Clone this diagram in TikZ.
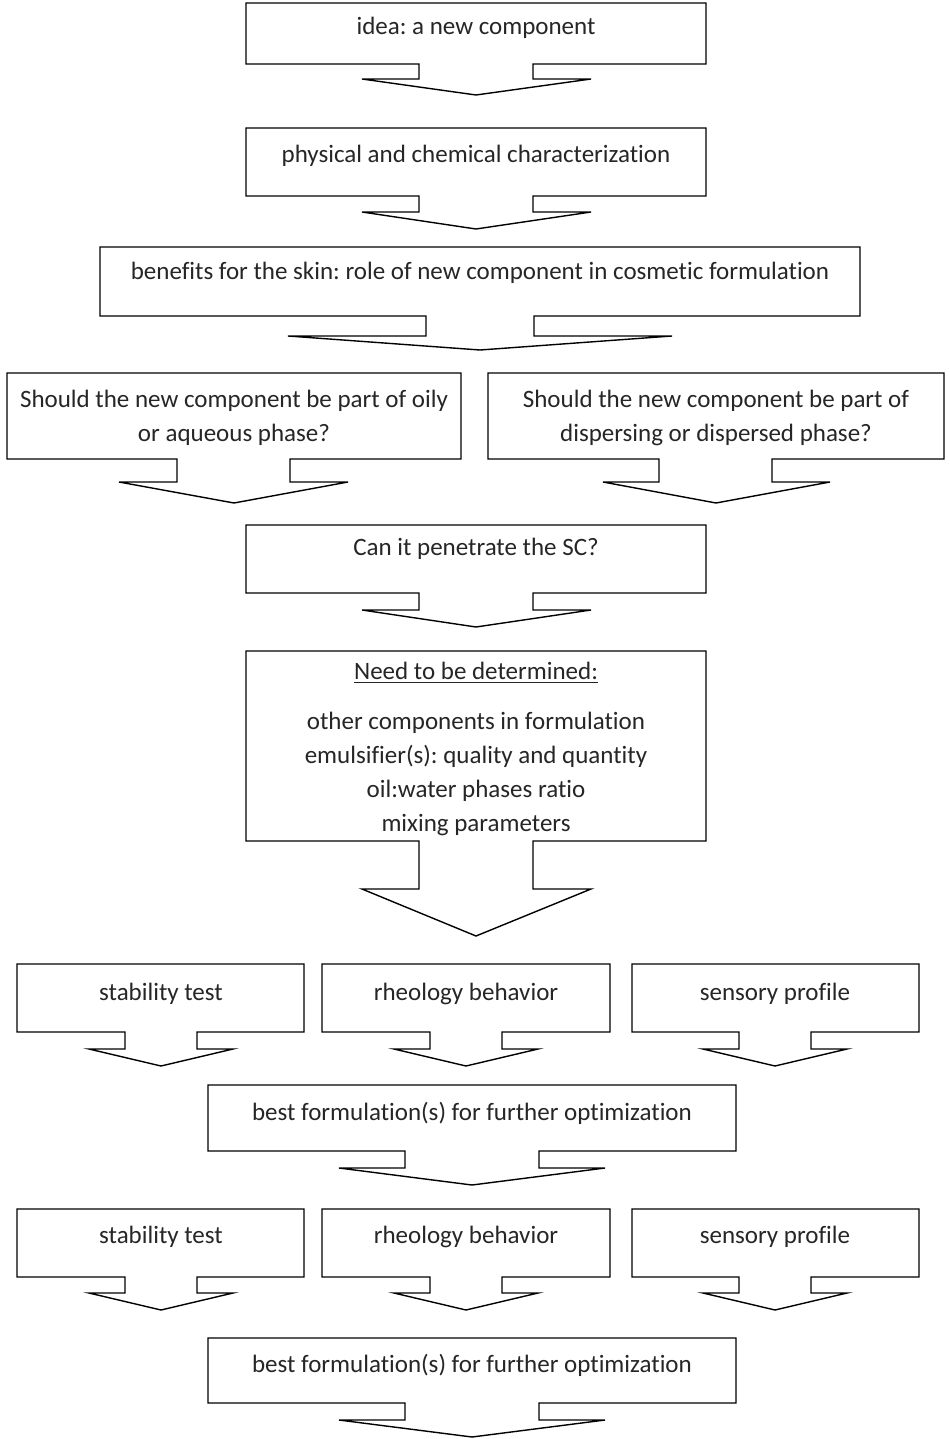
\documentclass[tikz,border=0pt]{standalone}
\usepackage{fontspec}
\setmainfont[Ligatures=NoCommon]{Carlito}
\frenchspacing

\begin{document}
\begin{tikzpicture}[x=0.5pt,y=-0.5pt,font=\fontsize{12.5}{17}\selectfont,callout/.style={fill=white,draw=black,line width=0.7pt,line join=miter},boxtext/.style={inner sep=0pt,align=center,text=black!85}]\useasboundingbox (0,0) rectangle (949,1439);
\path[callout] (246,3) -- (706,3) -- (706,64) -- (533,64) -- (533,79) -- (591,79) -- (476,95) -- (362,79) -- (419,79) -- (419,64) -- (246,64) -- cycle;
\node[boxtext] (idea) at (476,28) {idea: a new component};
\path[callout] (246,128) -- (706,128) -- (706,196) -- (533,196) -- (533,212) -- (591,212) -- (476,229) -- (362,212) -- (419,212) -- (419,196) -- (246,196) -- cycle;
\node[boxtext] (charact) at (476,156) {physical and chemical characterization};
\path[callout] (100,247) -- (860,247) -- (860,316) -- (534,316) -- (534,336) -- (672,336) -- (480,350) -- (288,336) -- (426,336) -- (426,316) -- (100,316) -- cycle;
\node[boxtext] (benefits) at (480,273) {benefits for the skin: role of new component in cosmetic formulation};
\path[callout] (7,373) -- (461,373) -- (461,459) -- (290,459) -- (290,482) -- (348,482) -- (234,503) -- (119,482) -- (177,482) -- (177,459) -- (7,459) -- cycle;
\node[boxtext] (phase-oily) at (234,418) {Should the new component be part of oily\\or aqueous phase?};
\path[callout] (488,373) -- (944,373) -- (944,459) -- (772,459) -- (772,482) -- (830,482) -- (716,503) -- (603,482) -- (659,482) -- (659,459) -- (488,459) -- cycle;
\node[boxtext] (phase-disp) at (716,418) {Should the new component be part of\\dispersing or dispersed phase?};
\path[callout] (246,525) -- (706,525) -- (706,593) -- (533,593) -- (533,610) -- (591,610) -- (476,627) -- (362,610) -- (419,610) -- (419,593) -- (246,593) -- cycle;
\node[boxtext] (penetrate) at (476,549) {Can it penetrate the SC?};
\path[callout] (246,651) -- (706,651) -- (706,841) -- (533,841) -- (533,889) -- (591,889) -- (476,936) -- (362,889) -- (419,889) -- (419,841) -- (246,841) -- cycle;
\node[boxtext] (determine) at (476,749) {\underline{Need to be determined:}\\[8pt]other components in formulation\\emulsifier(s): quality and quantity\\oil:water phases ratio\\mixing parameters};
\path[callout] (17,964) -- (304,964) -- (304,1032) -- (197,1032) -- (197,1049) -- (233,1049) -- (161,1066) -- (89,1049) -- (125,1049) -- (125,1032) -- (17,1032) -- cycle;
\node[boxtext] (stab-0) at (161,994) {stability test};
\path[callout] (322,964) -- (610,964) -- (610,1032) -- (502,1032) -- (502,1049) -- (538,1049) -- (466,1066) -- (394,1049) -- (430,1049) -- (430,1032) -- (322,1032) -- cycle;
\node[boxtext] (rheo-0) at (466,994) {rheology behavior};
\path[callout] (632,964) -- (919,964) -- (919,1032) -- (811,1032) -- (811,1049) -- (847,1049) -- (775,1066) -- (703,1049) -- (739,1049) -- (739,1032) -- (632,1032) -- cycle;
\node[boxtext] (sens-0) at (775,994) {sensory profile};
\path[callout] (208,1085) -- (736,1085) -- (736,1151) -- (539,1151) -- (539,1168) -- (605,1168) -- (472,1185) -- (339,1168) -- (405,1168) -- (405,1151) -- (208,1151) -- cycle;
\node[boxtext] (best-0) at (472,1113) {best formulation(s) for further optimization};
\path[callout] (17,1209) -- (304,1209) -- (304,1277) -- (197,1277) -- (197,1293) -- (233,1293) -- (161,1310) -- (89,1293) -- (125,1293) -- (125,1277) -- (17,1277) -- cycle;
\node[boxtext] (stab-1) at (161,1237) {stability test};
\path[callout] (322,1209) -- (610,1209) -- (610,1277) -- (502,1277) -- (502,1293) -- (538,1293) -- (466,1310) -- (394,1293) -- (430,1293) -- (430,1277) -- (322,1277) -- cycle;
\node[boxtext] (rheo-1) at (466,1237) {rheology behavior};
\path[callout] (632,1209) -- (919,1209) -- (919,1277) -- (811,1277) -- (811,1293) -- (847,1293) -- (775,1310) -- (703,1293) -- (739,1293) -- (739,1277) -- (632,1277) -- cycle;
\node[boxtext] (sens-1) at (775,1237) {sensory profile};
\path[callout] (208,1338) -- (736,1338) -- (736,1403) -- (539,1403) -- (539,1420) -- (605,1420) -- (472,1437) -- (339,1420) -- (405,1420) -- (405,1403) -- (208,1403) -- cycle;
\node[boxtext] (best-1) at (472,1365) {best formulation(s) for further optimization};
\end{tikzpicture}
\end{document}
